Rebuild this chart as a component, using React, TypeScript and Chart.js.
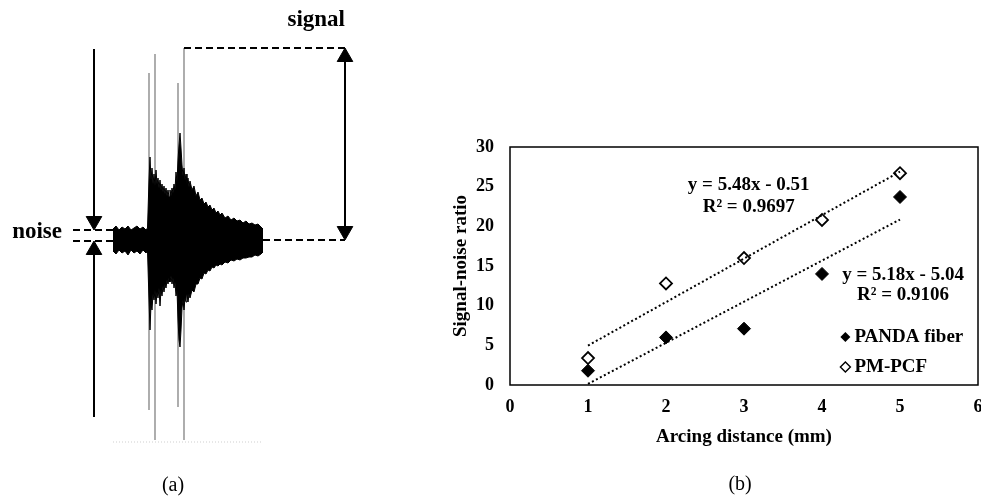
import React, { useEffect, useRef } from 'react';
import { Chart, registerables } from 'chart.js';
Chart.register(...registerables);

const SERIF = '"Liberation Serif", "Times New Roman", serif';

// ---------- panel (b) data ----------
const arcDistance = [1, 2, 3, 4, 5];
const pandaSNR = [1.8, 6.0, 7.1, 14.0, 23.7];
const pcfSNR = [3.4, 12.8, 16.0, 20.8, 26.7];
const trendX = [1, 5];
const pcfTrend = [4.97, 26.89];
const pandaTrend = [0.14, 20.86];
const xTicks = [0, 1, 2, 3, 4, 5, 6];
const yTicks = [0, 5, 10, 15, 20, 25, 30];
const pcfEquation = ['y = 5.48x - 0.51', 'R\u00B2 = 0.9697'];
const pandaEquation = ['y = 5.18x - 5.04', 'R\u00B2 = 0.9106'];
const seriesNames = ['PANDA fiber', 'PM-PCF'];

// ---------- panel (a) data (schematic waveform: time / amplitude, arbitrary units) ----------
const waveTime = [
  0, 0.3, 0.6, 0.9, 1.2, 1.5, 1.8, 2.1, 2.4, 2.7, 3.0, 3.3, 3.45,
  3.6, 3.7, 3.8, 3.9, 4.0, 4.1, 4.2, 4.3, 4.4, 4.5, 4.6, 4.7, 4.8, 4.9, 5.0, 5.1, 5.2, 5.3, 5.4, 5.5, 5.6, 5.7, 5.8, 5.9, 6.0,
  6.1, 6.2, 6.3, 6.4, 6.5, 6.6, 6.7, 6.8, 6.9, 7.0, 7.1, 7.2, 7.3, 7.4, 7.5, 7.6, 7.7,
  7.9, 8.1, 8.3, 8.5, 8.7, 8.9, 9.1, 9.3, 9.5, 9.7, 9.9, 10.1, 10.3, 10.5, 10.7, 10.9,
  11.2, 11.5, 11.8, 12.1, 12.4, 12.7, 13.0, 13.3, 13.6, 13.9, 14.2, 14.5, 14.8,
  15.0,
];
const waveUpper = [
  5.5, 7, 5, 6.5, 5.5, 7, 5, 6, 7, 5.5, 6.5, 5, 6,
  30, 41.5, 30, 36, 28, 33, 27, 35, 28, 31, 26, 30, 25, 28, 24, 27, 23, 26, 22, 25, 21.5, 25, 22,
  26, 23.5, 28, 25, 34, 29, 40, 47.5, 53.5, 46, 37.5, 32, 36, 30, 33, 28, 31, 26.5, 29.5,
  25, 27, 22, 24, 20, 21, 18, 19, 16.5, 17.5, 15, 16, 13.5, 14.5, 12.5, 13.5,
  11, 12, 10, 11, 9.5, 10, 8.5, 9.5, 8, 8.5, 7.5, 8, 6.5,
  5.5,
];
const waveLower = [
  -5.5, -7, -5, -6.5, -5.5, -7.5, -5, -6.5, -5.5, -7, -5, -6.5, -5.5,
  -30, -45, -32, -35, -27, -30, -25, -32, -26, -29, -24, -33, -25, -28, -23, -26, -22, -24, -20, -22, -19, -21, -18,
  -22, -19, -24, -21, -28, -25, -40, -50, -53.5, -45, -34, -30, -35, -29, -31, -27, -31, -27, -29,
  -25, -26, -22, -22, -19, -19.5, -16.5, -17, -15, -15.5, -13.5, -14, -12.5, -13, -12, -12.5,
  -11, -11.5, -10, -10.5, -9.5, -10, -9, -9, -8.5, -8.5, -7.5, -8, -7,
  -6,
];
const spikeTime = [3.6, 4.2, 6.5, 7.1];
const spikeTop = [83.5, 93, 78.5, 96];
const spikeBottom = [-85, -100, -83.5, -100];
const signalLevel = 96;
const noiseTop = 5;
const noiseBottom = -0.5;
const baselineLevel = 0;
const floorLevel = -101;
const noiseArrowTime = -1.9;
const signalArrowTime = 23.2;
const noiseDashStart = -4;
const waveStart = 0;
const waveEnd = 15;
const noiseArrowTopEnd = 95.5;
const noiseArrowBottomEnd = -88.5;

function pts(xs: number[], ys: number[]) {
  return xs.map((x, i) => ({ x, y: ys[i] }));
}

const headOffset = 4.5; // arrow-head centroid offset from its tip (amplitude units)

const panelALabels = [
  { text: 'noise', x: -5.1, y: 4, align: 'right', font: `bold 23px ${SERIF}` },
  { text: 'signal', x: 23.2, y: 110, align: 'right', font: `bold 23px ${SERIF}` },
  { text: '(a)', x: 6, y: -123, align: 'center', font: `20px ${SERIF}` },
];

const labelPluginA = {
  id: 'labelsA',
  afterDatasetsDraw(chart: any) {
    const { ctx, scales } = chart;
    ctx.save();
    ctx.fillStyle = '#000';
    ctx.textBaseline = 'middle';
    for (const l of panelALabels) {
      ctx.font = l.font;
      ctx.textAlign = l.align;
      ctx.fillText(l.text, scales.x.getPixelForValue(l.x), scales.y.getPixelForValue(l.y));
    }
    ctx.restore();
  },
};

const plotPluginB = {
  id: 'plotB',
  afterDraw(chart: any) {
    const { ctx, chartArea: ca, scales } = chart;
    const X = (v: number) => scales.x.getPixelForValue(v);
    const Y = (v: number) => scales.y.getPixelForValue(v);
    ctx.save();
    ctx.strokeStyle = '#000';
    ctx.lineWidth = 1.5;
    ctx.strokeRect(ca.left, ca.top, ca.right - ca.left, ca.bottom - ca.top);
    ctx.fillStyle = '#000';
    ctx.textBaseline = 'middle';
    ctx.textAlign = 'center';
    ctx.font = `bold 19px ${SERIF}`;
    ctx.fillText(pcfEquation[0], X(3.06), Y(25.2));
    ctx.fillText(pcfEquation[1], X(3.06), Y(22.4));
    ctx.fillText(pandaEquation[0], X(5.04), Y(13.9));
    ctx.fillText(pandaEquation[1], X(5.04), Y(11.35));
    // legend
    const mx = X(4.3);
    const rows = [Y(6.05), Y(2.27)];
    rows.forEach((ry, i) => {
      const r = 5;
      ctx.beginPath();
      ctx.moveTo(mx, ry - r);
      ctx.lineTo(mx + r, ry);
      ctx.lineTo(mx, ry + r);
      ctx.lineTo(mx - r, ry);
      ctx.closePath();
      if (i === 0) {
        ctx.fillStyle = '#000';
        ctx.fill();
      } else {
        ctx.fillStyle = '#fff';
        ctx.fill();
        ctx.lineWidth = 1.4;
        ctx.stroke();
      }
      ctx.fillStyle = '#000';
      ctx.textAlign = 'left';
      ctx.font = `bold 19px ${SERIF}`;
      ctx.fillText(seriesNames[i], mx + 9, ry);
    });
    ctx.textAlign = 'center';
    ctx.font = `20px ${SERIF}`;
    ctx.fillText('(b)', X(2.95), Y(-12.6));
    ctx.restore();
  },
};

export default function App() {
  const refA = useRef<HTMLCanvasElement>(null);
  const refB = useRef<HTMLCanvasElement>(null);

  useEffect(() => {
    const spikeData: any[] = [];
    spikeTime.forEach((t, i) => {
      spikeData.push({ x: t, y: spikeTop[i] }, { x: t, y: spikeBottom[i] }, { x: t, y: null });
    });
    const dashData: any[] = [
      { x: noiseDashStart, y: noiseTop }, { x: waveStart, y: noiseTop }, { x: waveStart, y: null },
      { x: noiseDashStart, y: noiseBottom }, { x: waveStart, y: noiseBottom }, { x: waveStart, y: null },
      { x: spikeTime[3], y: signalLevel }, { x: signalArrowTime, y: signalLevel }, { x: signalArrowTime, y: null },
      { x: waveEnd, y: baselineLevel }, { x: signalArrowTime, y: baselineLevel },
    ];
    const shaftData: any[] = [
      { x: noiseArrowTime, y: noiseArrowTopEnd }, { x: noiseArrowTime, y: noiseTop + headOffset }, { x: noiseArrowTime, y: null },
      { x: noiseArrowTime, y: noiseBottom - headOffset }, { x: noiseArrowTime, y: noiseArrowBottomEnd }, { x: noiseArrowTime, y: null },
      { x: signalArrowTime, y: signalLevel - headOffset }, { x: signalArrowTime, y: baselineLevel + headOffset },
    ];
    const headData = [
      { x: noiseArrowTime, y: noiseTop + headOffset },
      { x: noiseArrowTime, y: noiseBottom - headOffset },
      { x: signalArrowTime, y: signalLevel - headOffset },
      { x: signalArrowTime, y: baselineLevel + headOffset },
    ];
    const headRot = [180, 0, 0, 180];

    const chartA = new Chart(refA.current!, {
      type: 'line',
      data: {
        datasets: [
          { data: pts(waveTime, waveUpper), borderColor: '#000', borderWidth: 1, backgroundColor: '#000', fill: '+1', pointRadius: 0, tension: 0, order: 3 } as any,
          { data: pts(waveTime, waveLower), borderColor: '#000', borderWidth: 1, backgroundColor: '#000', fill: false, pointRadius: 0, tension: 0, order: 3 } as any,
          { data: spikeData, borderColor: '#8c8c8c', borderWidth: 1.4, pointRadius: 0, spanGaps: false, fill: false, order: 4 } as any,
          { data: [{ x: waveStart, y: floorLevel }, { x: waveEnd, y: floorLevel }], borderColor: '#cfcfcf', borderWidth: 1, borderDash: [1, 2], pointRadius: 0, fill: false, order: 5 } as any,
          { data: dashData, borderColor: '#000', borderWidth: 2, borderDash: [7, 4], pointRadius: 0, spanGaps: false, fill: false, order: 2 } as any,
          { data: shaftData, borderColor: '#000', borderWidth: 2, pointRadius: 0, spanGaps: false, fill: false, order: 1 } as any,
          { data: headData, showLine: false, pointStyle: 'triangle', pointRadius: 9, pointRotation: headRot, backgroundColor: '#000', borderColor: '#000', borderWidth: 1, order: 0 } as any,
        ],
      },
      options: {
        responsive: false,
        animation: false,
        devicePixelRatio: 1,
        layout: { autoPadding: false, padding: { left: 13, right: 27, top: 0, bottom: 1 } },
        plugins: { legend: { display: false }, tooltip: { enabled: false } },
        elements: { line: { borderCapStyle: 'butt' } },
        scales: {
          x: { type: 'linear', min: -10, max: 30, display: false },
          y: { type: 'linear', min: -130, max: 120, display: false },
        },
      } as any,
      plugins: [labelPluginA],
    });

    const tickFont = { family: SERIF, size: 18, weight: 'bold' as const };
    const titleFont = { family: SERIF, size: 19, weight: 'bold' as const };

    const chartB = new Chart(refB.current!, {
      type: 'scatter',
      data: {
        datasets: [
          { label: 'PM-PCF trend', data: pts(trendX, pcfTrend), showLine: true, borderColor: '#000', borderWidth: 2, borderDash: [2, 2.5], pointRadius: 0, order: 0 } as any,
          { label: 'PANDA trend', data: pts(trendX, pandaTrend), showLine: true, borderColor: '#000', borderWidth: 2, borderDash: [2, 2.5], pointRadius: 0, order: 0 } as any,
          { label: seriesNames[0], data: pts(arcDistance, pandaSNR), pointStyle: 'rectRot', pointRadius: 6.5, backgroundColor: '#000', borderColor: '#000', borderWidth: 1, order: 1 } as any,
          { label: seriesNames[1], data: pts(arcDistance, pcfSNR), pointStyle: 'rectRot', pointRadius: 6, backgroundColor: '#fff', borderColor: '#000', borderWidth: 1.8, order: 1 } as any,
        ],
      },
      options: {
        responsive: false,
        animation: false,
        devicePixelRatio: 1,
        layout: { autoPadding: false, padding: { left: 0, right: 22, top: 147, bottom: 52.6 } },
        plugins: { legend: { display: false }, tooltip: { enabled: false } },
        scales: {
          x: {
            type: 'linear', min: 0, max: 6,
            afterBuildTicks: (s: any) => { s.ticks = xTicks.map((v) => ({ value: v })); },
            grid: { display: false, drawTicks: false },
            border: { display: false },
            ticks: { padding: 12, color: '#000', font: tickFont },
            title: { display: true, text: 'Arcing distance (mm)', color: '#000', font: titleFont, padding: { top: 0, bottom: 0 } },
            afterFit: (s: any) => { s.height = 63.4; },
          },
          y: {
            type: 'linear', min: 0, max: 30,
            afterBuildTicks: (s: any) => { s.ticks = yTicks.map((v) => ({ value: v })); },
            grid: { display: false, drawTicks: false },
            border: { display: false },
            ticks: { padding: 16, color: '#000', font: tickFont },
            title: { display: true, text: 'Signal-noise ratio', color: '#000', font: titleFont, padding: { top: 9.6, bottom: 0 } },
            afterFit: (s: any) => { s.width = 70; },
          },
        },
      } as any,
      plugins: [plotPluginB],
    });

    return () => {
      chartA.destroy();
      chartB.destroy();
    };
  }, []);

  return (
    <div style={{ position: 'fixed', left: 0, top: 0, width: 981, height: 501, overflow: 'hidden', background: '#fff' }}>
      <canvas ref={refA} width={440} height={501} style={{ position: 'absolute', left: 0, top: 0 }} />
      <canvas ref={refB} width={560} height={501} style={{ position: 'absolute', left: 440, top: 0 }} />
    </div>
  );
}
